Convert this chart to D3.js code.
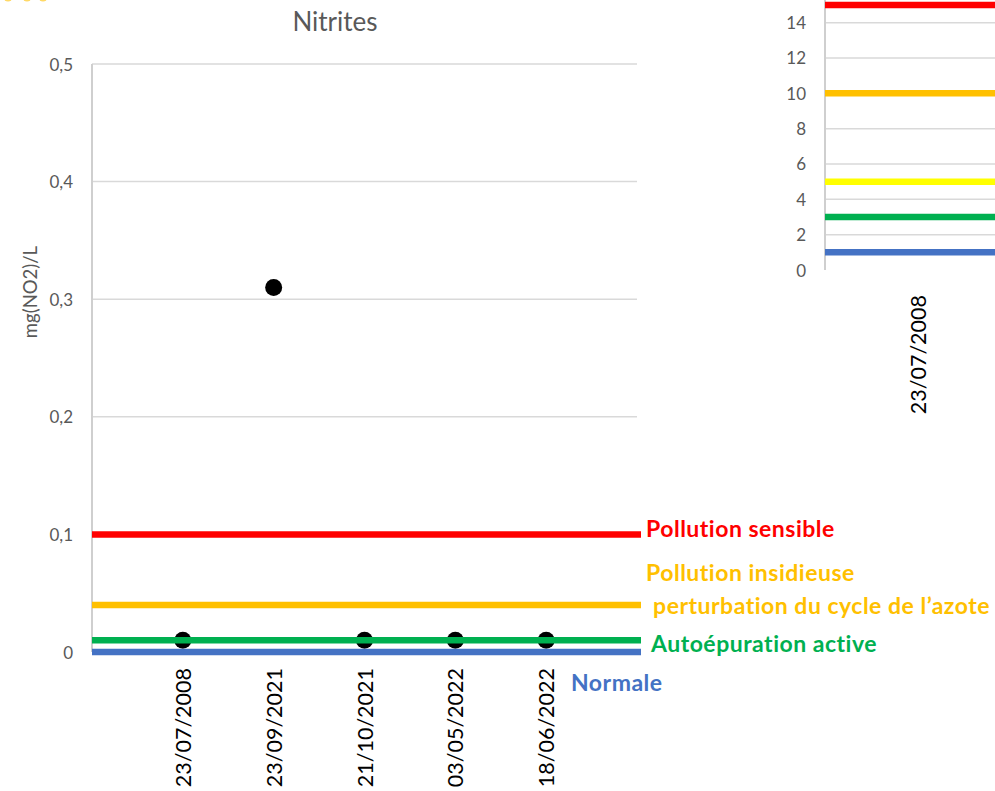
<!DOCTYPE html>
<html>
<head>
<meta charset="utf-8">
<script src="https://cdn.jsdelivr.net/npm/d3@7"></script>
<style>
  html, body { margin: 0; padding: 0; background: #fff; }
  svg { display: block; font-family: Lato, "Open Sans", sans-serif; }
</style>
</head>
<body>
<svg id="chart" width="995" height="791"></svg>
<script>
// Nitrite measurements per sampling date
const dates = ["23/07/2008", "23/09/2021", "21/10/2021", "03/05/2022", "18/06/2022"];
const nitrites = [0.01, 0.31, 0.01, 0.01, 0.01];
const yTicks = [0, 0.1, 0.2, 0.3, 0.4, 0.5];

// Quality thresholds for nitrites (mg(NO2)/L)
const thresholdValues = [0.1, 0.04, 0.01, 0];
const thresholdColors = ["#FF0000", "#FFC000", "#00B050", "#4472C4"];
const thresholdLabels = [
  ["Pollution sensible"],
  ["Pollution insidieuse", " perturbation du cycle de l’azote"],
  ["Autoépuration active"],
  ["Normale"]
];

// Neighbouring chart (partly visible on the right)
const sideDates = ["23/07/2008"];
const sideTicks = [0, 2, 4, 6, 8, 10, 12, 14];
const sideThresholds = [15, 10, 5, 3, 1];
const sideColors = ["#FF0000", "#FFC000", "#FFFF00", "#00B050", "#4472C4"];

const svg = d3.select("#chart");
const grey = "#595959";

// ---------- main chart ----------
const x = d3.scaleLinear().domain([0, dates.length + 1]).range([92, 637]);
const y = d3.scaleLinear().domain([0, 0.5]).range([652, 64]);
const fmt = d => d === 0 ? "0" : d3.format(".1f")(d).replace(".", ",");

// horizontal gridlines
svg.append("g").selectAll("line").data(yTicks.filter(d => d > 0)).join("line")
  .attr("x1", x(0)).attr("x2", x(dates.length + 1))
  .attr("y1", d => y(d)).attr("y2", d => y(d))
  .attr("stroke", "#D9D9D9").attr("stroke-width", 1.5);

// vertical axis line
svg.append("line")
  .attr("x1", x(0)).attr("x2", x(0)).attr("y1", y(0.5)).attr("y2", y(0))
  .attr("stroke", "#CFCFCF").attr("stroke-width", 2);

// y tick labels
svg.append("g").selectAll("text").data(yTicks).join("text")
  .attr("x", 73).attr("y", d => y(d))
  .attr("text-anchor", "end").attr("dominant-baseline", "central")
  .attr("fill", grey).attr("font-size", 17)
  .text(fmt);

// y axis title
svg.append("text")
  .attr("transform", `translate(30,${292}) rotate(-90)`)
  .attr("text-anchor", "middle").attr("dominant-baseline", "central")
  .attr("fill", grey).attr("font-size", 18.5)
  .text("mg(NO2)/L");

// chart title
svg.append("text")
  .attr("x", 335).attr("y", 21)
  .attr("text-anchor", "middle").attr("dominant-baseline", "central")
  .attr("fill", grey).attr("font-size", 26)
  .text("Nitrites");

// date labels
svg.append("g").selectAll("text").data(dates).join("text")
  .attr("transform", (d, i) => `translate(${x(i + 1)},668) rotate(-90)`)
  .attr("text-anchor", "end").attr("dominant-baseline", "central")
  .attr("fill", "#000").attr("font-size", 21.5)
  .text(d => d);

// measurement points
svg.append("g").selectAll("circle").data(nitrites).join("circle")
  .attr("cx", (d, i) => x(i + 1)).attr("cy", d => y(d))
  .attr("r", 8.5).attr("fill", "#000");

// threshold lines
svg.append("g").selectAll("line").data(thresholdValues).join("line")
  .attr("x1", x(0)).attr("x2", x(dates.length + 1) + 4)
  .attr("y1", d => y(d)).attr("y2", d => y(d))
  .attr("stroke", (d, i) => thresholdColors[i]).attr("stroke-width", 6.5);

// threshold labels
const labelPos = [
  { x: 646, dy: [-6] },
  { x: 646, dy: [-33, 0] },
  { x: 651, dy: [3] },
  { x: 571, dy: [30] }
];
thresholdLabels.forEach((lines, i) => {
  lines.forEach((t, j) => {
    svg.append("text")
      .attr("x", labelPos[i].x + (j > 0 ? 1 : 0))
      .attr("y", y(thresholdValues[i]) + labelPos[i].dy[j])
      .attr("dominant-baseline", "central")
      .attr("fill", thresholdColors[i])
      .attr("font-size", 23).attr("font-weight", "bold")
      .attr("letter-spacing", 0.5)
      .attr("xml:space", "preserve")
      .text(t);
  });
});

// ---------- side chart ----------
const sy = d3.scaleLinear().domain([0, 16]).range([270, -12.7]);
const sx = d3.scaleBand().domain(sideDates).range([825, 1011]);

svg.append("g").selectAll("line").data(sideTicks.filter(d => d > 0)).join("line")
  .attr("x1", 825).attr("x2", 995)
  .attr("y1", d => sy(d)).attr("y2", d => sy(d))
  .attr("stroke", "#D9D9D9").attr("stroke-width", 1.5);

svg.append("line")
  .attr("x1", 825).attr("x2", 825).attr("y1", 0).attr("y2", sy(0))
  .attr("stroke", "#CFCFCF").attr("stroke-width", 2);

svg.append("g").selectAll("text").data(sideTicks).join("text")
  .attr("x", 806).attr("y", d => sy(d))
  .attr("text-anchor", "end").attr("dominant-baseline", "central")
  .attr("fill", grey).attr("font-size", 17)
  .text(d => d);

svg.append("g").selectAll("line.th").data(sideThresholds).join("line")
  .attr("x1", 825).attr("x2", 995)
  .attr("y1", d => sy(d)).attr("y2", d => sy(d))
  .attr("stroke", (d, i) => sideColors[i]).attr("stroke-width", 6.5);

svg.append("g").selectAll("text").data(sideDates).join("text")
  .attr("transform", d => `translate(${sx(d) + sx.bandwidth() / 2},295) rotate(-90)`)
  .attr("text-anchor", "end").attr("dominant-baseline", "central")
  .attr("fill", "#000").attr("font-size", 21.5)
  .text(d => d);

// clipped legend markers of the chart above
svg.append("g").selectAll("circle").data([8, 27, 43]).join("circle")
  .attr("cx", d => d).attr("cy", -3).attr("r", 4.5)
  .attr("fill", "#FFD966");
</script>
</body>
</html>
